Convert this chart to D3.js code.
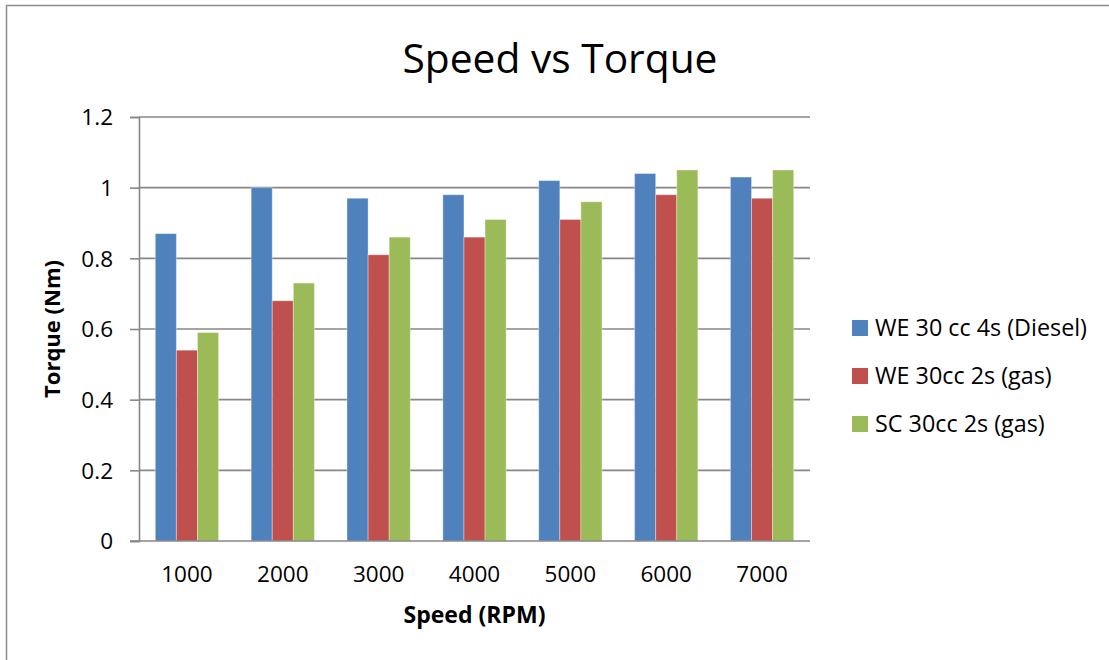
<!DOCTYPE html>
<html>
<head>
<meta charset="utf-8">
<script src="https://cdn.jsdelivr.net/npm/d3@7"></script>
<style>
  html, body { margin: 0; padding: 0; background: #fff; overflow: hidden; }
  svg { display: block; }
  text { font-family: "Open Sans", "Noto Sans", sans-serif; fill: #000; }
</style>
</head>
<body>
<svg id="chart" width="1109" height="660"></svg>
<script>
const categories = ["1000", "2000", "3000", "4000", "5000", "6000", "7000"];
const seriesNames = ["WE 30 cc 4s (Diesel)", "WE 30cc 2s (gas)", "SC 30cc 2s (gas)"];
const diesel = [0.87, 1.00, 0.97, 0.98, 1.02, 1.04, 1.03];
const we2s   = [0.54, 0.68, 0.81, 0.86, 0.91, 0.98, 0.97];
const sc2s   = [0.59, 0.73, 0.86, 0.91, 0.96, 1.05, 1.05];
const yTicks = [0, 0.2, 0.4, 0.6, 0.8, 1, 1.2];
const colors = ["#4F81BD", "#C0504D", "#9BBB59"];

(function () {
const series = [diesel, we2s, sc2s];
const svg = d3.select("#chart");

function fit(sel, target) {
  const w = sel.node().getComputedTextLength();
  const fs = parseFloat(sel.attr("font-size"));
  sel.attr("font-size", (fs * target / w).toFixed(2));
  return sel;
}

// outer frame: only left and top edges are visible in the reference
svg.append("line").attr("x1", 6.5).attr("x2", 6.5).attr("y1", 5).attr("y2", 660)
  .attr("stroke", "#8c8c8c").attr("stroke-width", 1.5);
svg.append("line").attr("x1", 6).attr("x2", 1109).attr("y1", 5.5).attr("y2", 5.5)
  .attr("stroke", "#8c8c8c").attr("stroke-width", 1.5);

const pLeft = 139, pRight = 810, pTop = 117, pBottom = 541;

const x = d3.scaleBand().domain(categories).range([pLeft, pRight]).paddingInner(0.34).paddingOuter(0.17);
const xs = d3.scaleBand().domain(d3.range(series.length)).range([0, x.bandwidth()]);
const y = d3.scaleLinear().domain([0, 1.2]).range([pBottom, pTop]);

svg.append("g").selectAll("line").data(yTicks.filter(d => d > 0)).join("line")
  .attr("x1", pLeft).attr("x2", pRight)
  .attr("y1", d => y(d)).attr("y2", d => y(d))
  .attr("stroke", "#878787").attr("stroke-width", 1.6);

const groups = svg.append("g").selectAll("g").data(series).join("g")
  .attr("fill", (d, i) => colors[i]);
groups.each(function(vals, si) {
  d3.select(this).selectAll("rect").data(vals).join("rect")
    .attr("x", (v, ci) => x(categories[ci]) + xs(si))
    .attr("width", xs.bandwidth())
    .attr("y", v => y(v))
    .attr("height", v => y(0) - y(v))
    .attr("stroke", "rgba(255,255,255,0.35)")
    .attr("stroke-width", 1);
});

const yAxis = d3.axisLeft(y).tickValues(yTicks).tickSize(9).tickPadding(17)
  .tickFormat(d => d3.format("~g")(d));
const yg = svg.append("g").attr("transform", `translate(${pLeft},0)`).call(yAxis);
yg.select(".domain").attr("stroke", "#878787").attr("stroke-width", 1.6);
yg.selectAll(".tick line").attr("stroke", "#878787").attr("stroke-width", 1.6);
yg.selectAll(".tick text").attr("font-size", 22.5).attr("font-family", "Open Sans").attr("fill", "#000")
  .attr("dy", "0.35em");

const xAxis = d3.axisBottom(x).tickSize(0).tickPadding(25);
const xg = svg.append("g").attr("transform", `translate(0,${pBottom})`).call(xAxis);
xg.select(".domain").attr("stroke", "#878787").attr("stroke-width", 1.6)
  .attr("d", `M${pLeft - 9},0H${pRight}`);
xg.selectAll(".tick text").attr("font-size", 22.5).attr("font-family", "Open Sans").attr("fill", "#000")
  .attr("dy", "0.71em");

fit(svg.append("text").attr("x", 560).attr("y", 73).attr("text-anchor", "middle")
  .attr("font-size", 34).text("Speed vs Torque"), 315);

fit(svg.append("text").attr("x", 474.5).attr("y", 623).attr("text-anchor", "middle")
  .attr("font-size", 20).attr("font-weight", "bold").text("Speed (RPM)"), 142);
fit(svg.append("text").attr("transform", "translate(60,329) rotate(-90)").attr("text-anchor", "middle")
  .attr("font-size", 20).attr("font-weight", "bold").text("Torque (Nm)"), 138);

const lg = svg.append("g").selectAll("g").data(seriesNames).join("g")
  .attr("transform", (d, i) => `translate(852,${328 + i * 48})`);
lg.append("rect").attr("x", 0).attr("y", -8).attr("width", 16).attr("height", 16)
  .attr("fill", (d, i) => colors[i]);
const lt = lg.append("text").attr("x", 23).attr("y", 0).attr("dy", "0.35em")
  .attr("font-size", 20).text(d => d);
fit(d3.select(lt.nodes()[0]), 212);
const fsL = d3.select(lt.nodes()[0]).attr("font-size");
lt.attr("font-size", fsL);
})();
</script>
</body>
</html>
